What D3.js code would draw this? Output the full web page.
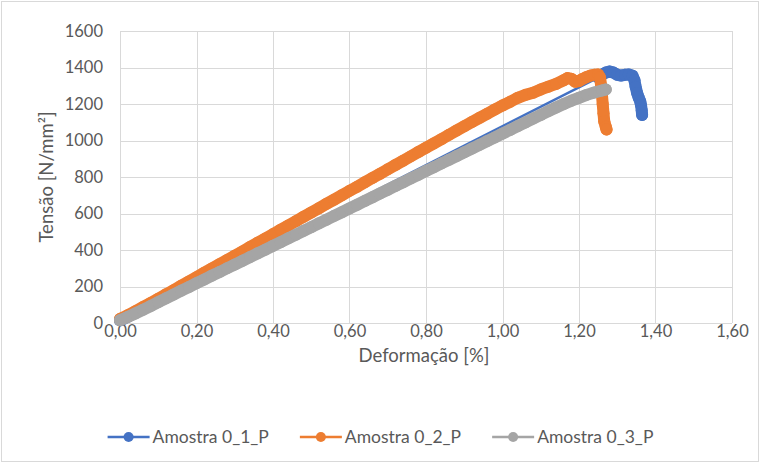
<!DOCTYPE html>
<html>
<head>
<meta charset="utf-8">
<script src="https://cdn.jsdelivr.net/npm/d3@7"></script>
<style>
  html, body { margin: 0; padding: 0; background: #fff; }
  svg { display: block; }
  text { font-family: Lato, "Open Sans", sans-serif; fill: #595959; }
</style>
</head>
<body>
<div id="chart"></div>
<script>
// Tensile test curves: strain [%] vs stress [N/mm²] for three specimens

const seriesNames = ["Amostra 0_1_P", "Amostra 0_2_P", "Amostra 0_3_P"];
const seriesColors = ["#4472c4", "#ed7d31", "#a5a5a5"];

const xTicks = [0, 0.2, 0.4, 0.6, 0.8, 1.0, 1.2, 1.4, 1.6];
const yTicks = [0, 200, 400, 600, 800, 1000, 1200, 1400, 1600];

// Amostra 0_1_P
const strain1 = [0.00, 0.01, 0.02, 0.03, 0.04, 0.05,
  1.25, 1.26, 1.27, 1.28, 1.29, 1.30, 1.31, 1.32, 1.33, 1.34,
  1.345, 1.348, 1.352, 1.356, 1.360, 1.362, 1.364, 1.365];
const stress1 = [15, 24, 35, 46, 56, 66,
  1345, 1360, 1372, 1378, 1372, 1360, 1356, 1360, 1362, 1355,
  1330, 1295, 1260, 1235, 1215, 1195, 1165, 1140];

// Amostra 0_2_P
const strain2 = [0.00, 0.02, 0.04, 0.06, 0.08, 0.10, 0.12, 0.14, 0.16, 0.18,
  0.20, 0.22, 0.24, 0.26, 0.28, 0.30, 0.32, 0.34, 0.36, 0.38,
  0.40, 0.42, 0.44, 0.46, 0.48, 0.50, 0.52, 0.54, 0.56, 0.58,
  0.60, 0.62, 0.64, 0.66, 0.68, 0.70, 0.72, 0.74, 0.76, 0.78,
  0.80, 0.82, 0.84, 0.86, 0.88, 0.90, 0.92, 0.94, 0.96, 0.98,
  1.00, 1.02, 1.04, 1.06, 1.08, 1.10, 1.12, 1.14, 1.16, 1.17,
  1.18, 1.19, 1.20, 1.21, 1.22, 1.23, 1.24, 1.25, 1.255, 1.258,
  1.260, 1.262, 1.264, 1.266, 1.270, 1.272];
const stress2 = [22, 42, 64, 87, 110, 133, 157, 180, 204, 227,
  251, 275, 298, 322, 345, 369, 392, 416, 440, 463,
  487, 511, 534, 558, 582, 605, 629, 653, 676, 700,
  724, 747, 771, 795, 818, 842, 866, 889, 913, 937,
  960, 984, 1007, 1031, 1055, 1078, 1101, 1124, 1147, 1170,
  1192, 1212, 1234, 1250, 1262, 1280, 1295, 1310, 1330, 1342,
  1338, 1322, 1326, 1338, 1348, 1356, 1360, 1362, 1345, 1300,
  1250, 1200, 1150, 1105, 1075, 1060];

// Amostra 0_3_P
const strain3 = [0.00, 0.02, 0.04, 0.06, 0.08, 0.10, 0.12, 0.14, 0.16, 0.18,
  0.20, 0.22, 0.24, 0.26, 0.28, 0.30, 0.32, 0.34, 0.36, 0.38,
  0.40, 0.42, 0.44, 0.46, 0.48, 0.50, 0.52, 0.54, 0.56, 0.58,
  0.60, 0.62, 0.64, 0.66, 0.68, 0.70, 0.72, 0.74, 0.76, 0.78,
  0.80, 0.82, 0.84, 0.86, 0.88, 0.90, 0.92, 0.94, 0.96, 0.98,
  1.00, 1.02, 1.04, 1.06, 1.08, 1.10, 1.12, 1.14, 1.16, 1.18,
  1.20, 1.22, 1.24, 1.26, 1.27];
const stress3 = [15, 33, 52, 72, 93, 114, 135, 156, 177, 197,
  218, 238, 259, 279, 300, 320, 341, 361, 382, 402,
  423, 443, 464, 484, 505, 525, 546, 566, 587, 607,
  628, 648, 669, 689, 710, 730, 751, 771, 792, 812,
  833, 853, 874, 894, 915, 935, 956, 976, 997, 1017,
  1038, 1058, 1079, 1099, 1120, 1140, 1161, 1181, 1200, 1218,
  1234, 1250, 1263, 1274, 1280];

const seriesX = [strain1, strain2, strain3];
const seriesY = [stress1, stress2, stress3];

const W = 761, H = 464;
const margin = { left: 120, right: 29, top: 31, bottom: 141 };
const markerR = 6;

const svg = d3.select("#chart").append("svg")
  .attr("width", W).attr("height", H);

// chart frame
svg.append("rect")
  .attr("x", 1.5).attr("y", 1.5)
  .attr("width", W - 4).attr("height", H - 4)
  .attr("fill", "#fff").attr("stroke", "#d9d9d9").attr("stroke-width", 1);

const x = d3.scaleLinear().domain([0, 1.6]).range([margin.left, W - margin.right]);
const y = d3.scaleLinear().domain([0, 1600]).range([H - margin.bottom, margin.top]);

// gridlines
const grid = svg.append("g").attr("stroke", "#d9d9d9").attr("stroke-width", 1);
grid.selectAll("line.h").data(yTicks).join("line")
  .attr("class", "h")
  .attr("x1", x(0)).attr("x2", x(1.6))
  .attr("y1", d => Math.round(y(d)) + 0.5).attr("y2", d => Math.round(y(d)) + 0.5);
grid.selectAll("line.v").data(xTicks).join("line")
  .attr("class", "v")
  .attr("x1", d => Math.round(x(d)) + 0.5).attr("x2", d => Math.round(x(d)) + 0.5)
  .attr("y1", y(0)).attr("y2", y(1600));

// axes (labels only)
const fmtX = d => d3.format(".2f")(d).replace(".", ",");
const xAxis = svg.append("g")
  .attr("transform", `translate(0,${y(0)})`)
  .call(d3.axisBottom(x).tickValues(xTicks).tickFormat(fmtX).tickSize(0).tickPadding(2));
const yAxis = svg.append("g")
  .attr("transform", `translate(${x(0)},0)`)
  .call(d3.axisLeft(y).tickValues(yTicks).tickFormat(d3.format("d")).tickSize(0).tickPadding(17));
[xAxis, yAxis].forEach(g => {
  g.select(".domain").remove();
  g.selectAll("text").attr("font-size", 16.5).attr("fill", "#595959")
    .attr("font-family", "Lato, 'Open Sans', sans-serif");
});

// axis titles
svg.append("text")
  .attr("x", (x(0) + x(1.6)) / 2 - 2).attr("y", 362)
  .attr("text-anchor", "middle").attr("font-size", 18.5)
  .text("Deformação [%]");
svg.append("text")
  .attr("transform", `translate(53,${(y(0) + y(1600)) / 2}) rotate(-90)`)
  .attr("text-anchor", "middle").attr("font-size", 18.5)
  .text("Tensão [N/mm²]");

// split a series into runs of closely spaced readings (dense marker trails)
function runs(pts) {
  const out = [];
  let cur = [pts[0]];
  for (let j = 1; j < pts.length; j++) {
    if (pts[j][0] - pts[j - 1][0] <= 0.03) cur.push(pts[j]);
    else { out.push(cur); cur = [pts[j]]; }
  }
  out.push(cur);
  return out;
}

const line = d3.line().x(d => x(d[0])).y(d => y(d[1]));
const plot = svg.append("g");
seriesNames.forEach((name, i) => {
  const pts = seriesX[i].map((v, j) => [v, seriesY[i][j]]);
  const g = plot.append("g");
  // connecting line
  g.append("path")
    .datum(pts)
    .attr("fill", "none")
    .attr("stroke", seriesColors[i])
    .attr("stroke-width", 2.5)
    .attr("stroke-linejoin", "round")
    .attr("d", line);
  // overlapping circular markers form a continuous trail
  g.selectAll("path.trail").data(runs(pts).filter(r => r.length > 1)).join("path")
    .attr("class", "trail")
    .attr("fill", "none")
    .attr("stroke", seriesColors[i])
    .attr("stroke-width", markerR * 2)
    .attr("stroke-linejoin", "round")
    .attr("stroke-linecap", "round")
    .attr("d", line);
  g.selectAll("circle").data(pts).join("circle")
    .attr("cx", d => x(d[0])).attr("cy", d => y(d[1]))
    .attr("r", markerR)
    .attr("fill", seriesColors[i]);
});

// legend
const legend = svg.append("g").attr("transform", "translate(0,437)");
const items = legend.selectAll("g").data(seriesNames).join("g");
items.append("line")
  .attr("x1", 0).attr("x2", 42).attr("y1", 0).attr("y2", 0)
  .attr("stroke", (d, i) => seriesColors[i]).attr("stroke-width", 2.5);
items.append("circle")
  .attr("cx", 21).attr("cy", 0).attr("r", 5)
  .attr("fill", (d, i) => seriesColors[i]);
items.append("text")
  .attr("x", 45).attr("y", 0).attr("dy", "0.35em")
  .attr("font-size", 17.5)
  .text(d => d);
let widths = [];
items.each(function () { widths.push(this.getBBox().width); });
const gap = 31;
const total = d3.sum(widths) + gap * (widths.length - 1);
let cursor = (W - total) / 2;
items.attr("transform", (d, i) => {
  const tx = cursor;
  cursor += widths[i] + gap;
  return `translate(${tx},0)`;
});
</script>
</body>
</html>
